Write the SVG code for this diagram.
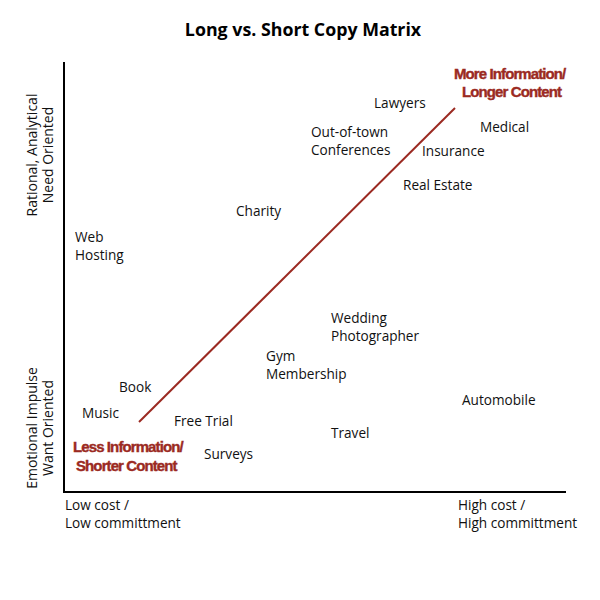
<svg xmlns="http://www.w3.org/2000/svg" width="600" height="600" viewBox="0 0 600 600">
<style>
.t{font-family:"Open Sans","Noto Sans",sans-serif;font-size:13.6px;fill:#111}
.v{font-family:"Open Sans","Noto Sans",sans-serif;font-size:14px;fill:#111}
.r{font-family:"Liberation Sans",Arial,sans-serif;font-size:15px;font-weight:bold;fill:#9b2a22;stroke:#9b2a22;stroke-width:0.4;letter-spacing:-0.9px}
.ttl{font-family:"Open Sans","Noto Sans",sans-serif;font-size:17.8px;font-weight:bold;fill:#000}
.ax{stroke:#000;stroke-width:2;fill:none}
.dg{stroke:#9b2a22;stroke-width:2;fill:none}
</style>
<rect width="600" height="600" fill="#fff"/>
<text class="ttl" x="303" y="36" text-anchor="middle">Long vs. Short Copy Matrix</text>
<g id="axes">
<path class="ax" d="M64,62 V492 H566"/>
</g>
<g id="connectors">
<line class="dg" x1="139" y1="422" x2="455" y2="108"/>
</g>
<g id="axis-labels">
<text class="v" transform="translate(37,155) rotate(-90)" text-anchor="middle">Rational, Analytical</text>
<text class="v" transform="translate(53,155) rotate(-90)" text-anchor="middle">Need Oriented</text>
<text class="v" transform="translate(37,428) rotate(-90)" text-anchor="middle">Emotional Impulse</text>
<text class="v" transform="translate(53,428) rotate(-90)" text-anchor="middle">Want Oriented</text>
<text class="t" x="65" y="510">Low cost /</text>
<text class="t" x="65" y="528">Low committment</text>
<text class="t" x="458" y="510">High cost /</text>
<text class="t" x="458" y="528">High committment</text>
</g>
<g id="node-lawyers"><text class="t" x="374" y="108">Lawyers</text></g>
<g id="node-medical"><text class="t" x="480" y="132">Medical</text></g>
<g id="node-conferences"><text class="t" x="311" y="137">Out-of-town</text><text class="t" x="311" y="155">Conferences</text></g>
<g id="node-insurance"><text class="t" x="422" y="156">Insurance</text></g>
<g id="node-realestate"><text class="t" x="403" y="190">Real Estate</text></g>
<g id="node-charity"><text class="t" x="236" y="216">Charity</text></g>
<g id="node-webhosting"><text class="t" x="75" y="242">Web</text><text class="t" x="75" y="260">Hosting</text></g>
<g id="node-wedding"><text class="t" x="331" y="323">Wedding</text><text class="t" x="331" y="341">Photographer</text></g>
<g id="node-gym"><text class="t" x="266" y="361">Gym</text><text class="t" x="266" y="379">Membership</text></g>
<g id="node-book"><text class="t" x="119" y="392">Book</text></g>
<g id="node-music"><text class="t" x="82" y="418">Music</text></g>
<g id="node-freetrial"><text class="t" x="174" y="426">Free Trial</text></g>
<g id="node-automobile"><text class="t" x="462" y="405">Automobile</text></g>
<g id="node-travel"><text class="t" x="331" y="438">Travel</text></g>
<g id="node-surveys"><text class="t" x="204" y="459">Surveys</text></g>
<g id="node-less"><text class="r" x="73" y="452">Less Information/</text><text class="r" x="76" y="471">Shorter Content</text></g>
<g id="node-more"><text class="r" x="454" y="79">More Information/</text><text class="r" x="462" y="97">Longer Content</text></g>
</svg>
